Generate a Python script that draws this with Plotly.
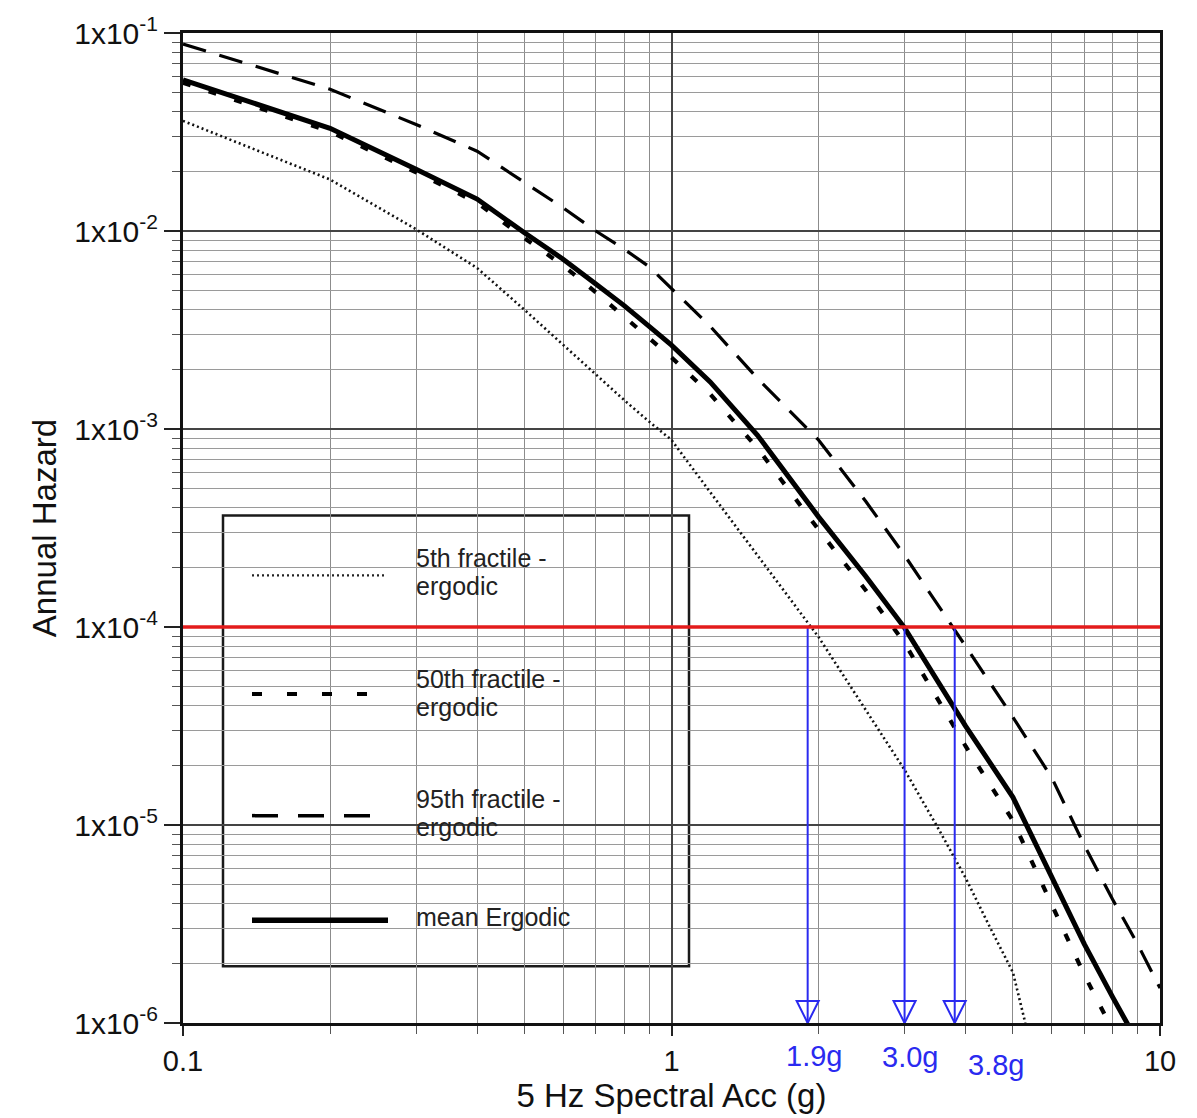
import numpy as np
import plotly.graph_objects as go

# ---------------- data ----------------
acc_mean = [0.1, 0.2, 0.3, 0.4, 0.5, 0.6, 0.7, 0.8, 0.9, 1.0, 1.2, 1.5, 2.0, 2.5, 3.0, 4.0, 5.0, 6.0, 7.0, 8.0, 8.6]
haz_mean = [0.058, 0.033, 0.0205, 0.0145, 0.0098, 0.0072, 0.0054, 0.0042, 0.0033, 0.00265, 0.00173,
            0.00093, 0.00036, 0.00018, 0.000099, 0.0000316, 0.0000138, 0.0000055, 0.0000025, 0.00000135, 0.00000098]

acc_p50 = [0.1, 0.2, 0.3, 0.4, 0.5, 0.6, 0.7, 0.8, 0.9, 1.0, 1.2, 1.5, 2.0, 2.5, 3.0, 4.0, 5.0, 6.0, 7.0, 8.0]
haz_p50 = [0.056, 0.0318, 0.0198, 0.0139, 0.0092, 0.0067, 0.0049, 0.0037, 0.0029, 0.0023, 0.0015,
           0.0008, 0.00031, 0.000153, 0.000083, 0.000025, 0.0000105, 0.000004, 0.00000175, 0.00000092]

acc_p05 = [0.1, 0.2, 0.3, 0.4, 0.5, 0.6, 0.7, 0.8, 0.9, 1.0, 1.2, 1.5, 2.0, 2.5, 3.0, 3.5, 4.0, 4.5, 5.0, 5.3]
haz_p05 = [0.036, 0.0182, 0.0102, 0.0065, 0.0040, 0.00265, 0.00188, 0.0014, 0.00109, 0.00088, 0.00048,
           0.00023, 0.000089, 0.000038, 0.000019, 0.0000098, 0.0000054, 0.000003, 0.0000018, 0.000001]

acc_p95 = [0.1, 0.2, 0.3, 0.4, 0.5, 0.6, 0.7, 0.8, 0.9, 1.0, 1.2, 1.5, 2.0, 2.5, 3.0, 4.0, 5.0, 6.0, 7.0, 8.0, 9.0, 10.0]
haz_p95 = [0.088, 0.052, 0.0345, 0.0253, 0.0176, 0.0131, 0.0100, 0.0081, 0.0066, 0.0051, 0.0033,
           0.0018, 0.00088, 0.00043, 0.00023, 0.00008, 0.000035, 0.0000174, 0.0000079, 0.0000042, 0.0000025, 0.0000015]

target_hazard = 1e-4
x_range_vals = [0.1, 10]
marked_acc = [1.9, 3.0, 3.8]
marked_labels = ["1.9g", "3.0g", "3.8g"]
y_floor = 1e-6

y_tickvals = [1e-6, 1e-5, 1e-4, 1e-3, 1e-2, 1e-1]
y_ticktext = ["1x10<sup>-6</sup>", "1x10<sup>-5</sup>", "1x10<sup>-4</sup>",
              "1x10<sup>-3</sup>", "1x10<sup>-2</sup>", "1x10<sup>-1</sup>"]
x_tickvals = [0.1, 1, 10]
x_ticktext = ["0.1", "1", "10"]

legend_labels = [["5th fractile -", "ergodic"], ["50th fractile -", "ergodic"],
                 ["95th fractile -", "ergodic"], ["mean Ergodic"]]

FONT = "Liberation Sans, Arial, Helvetica, sans-serif"

# ---------------- figure ----------------
fig = go.Figure()

fig.add_trace(go.Scatter(x=acc_p05, y=haz_p05, mode="lines",
                         line=dict(color="#111111", width=2.6, dash="2px,3px"), showlegend=False))
fig.add_trace(go.Scatter(x=acc_p95, y=haz_p95, mode="lines",
                         line=dict(color="black", width=3.2, dash="24px,14px"), showlegend=False))
fig.add_trace(go.Scatter(x=acc_p50, y=haz_p50, mode="lines",
                         line=dict(color="black", width=4.2, dash="8px,19px"), showlegend=False))
fig.add_trace(go.Scatter(x=acc_mean, y=haz_mean, mode="lines",
                         line=dict(color="black", width=5), showlegend=False))

# blue arrows
for a in marked_acc:
    fig.add_trace(go.Scatter(x=[a, a], y=[target_hazard, y_floor], mode="lines",
                             line=dict(color="#2a2af0", width=2), showlegend=False, cliponaxis=False))
fig.add_trace(go.Scatter(x=marked_acc, y=[y_floor] * len(marked_acc), mode="markers",
                         marker=dict(symbol="arrow-down-open", size=22, color="#2a2af0",
                                     line=dict(color="#2a2af0", width=2)),
                         showlegend=False, cliponaxis=False))

# red hazard line
fig.add_trace(go.Scatter(x=x_range_vals, y=[target_hazard, target_hazard], mode="lines",
                         line=dict(color="#e31b1b", width=3.5), showlegend=False))

# ---------------- layout ----------------
L, R, T, B = 183, 37, 30, 95
W, H = 1197, 1118
pw, ph = W - L - R, H - T - B


def px2paper_x(px):
    return (px - L) / pw


def px2paper_y(py):
    return (H - B - py) / ph


minor_x = [m * 10.0 ** k for k in (-1, 0) for m in range(2, 10)]
minor_y = [m * 10.0 ** k for k in range(-6, -1) for m in range(2, 10)]

fig.update_layout(
    width=W, height=H,
    margin=dict(l=L, r=R, t=T, b=B),
    paper_bgcolor="white", plot_bgcolor="white",
    font=dict(family=FONT, color="#111111"),
    xaxis=dict(type="log", range=[-1, 1], tickmode="array", tickvals=x_tickvals, ticktext=x_ticktext,
               ticks="outside", ticklen=10, tickwidth=1.5, tickcolor="#222",
               tickfont=dict(size=29, family=FONT, color="#111"),
               showline=True, linecolor="#111", linewidth=3, mirror=True,
               showgrid=True, gridcolor="#444444", gridwidth=1.5,
               minor=dict(tickmode="array", tickvals=minor_x, ticks="outside", ticklen=8,
                          tickcolor="#555", tickwidth=1, showgrid=True, gridcolor="#8c8c8c", gridwidth=1),
               title=dict(text="5 Hz Spectral Acc (g)", font=dict(size=33, family=FONT, color="#111"),
                          standoff=4),
               zeroline=False),
    yaxis=dict(type="log", range=[-6, -1], tickmode="array", tickvals=y_tickvals, ticktext=y_ticktext,
               ticks="outside", ticklen=16, tickwidth=1.5, tickcolor="#222",
               tickfont=dict(size=30, family=FONT, color="#111"),
               showline=True, linecolor="#111", linewidth=3, mirror=True,
               showgrid=True, gridcolor="#444444", gridwidth=1.5,
               minor=dict(tickmode="array", tickvals=minor_y, ticks="outside", ticklen=8,
                          tickcolor="#555", tickwidth=1, showgrid=True, gridcolor="#9a9a9a", gridwidth=1),
               title=dict(text="Annual Hazard", font=dict(size=33, family=FONT, color="#111"),
                          standoff=8),
               zeroline=False),
)

# legend box (manual)
fig.add_shape(type="rect", xref="paper", yref="paper",
              x0=px2paper_x(223), x1=px2paper_x(689), y0=px2paper_y(966), y1=px2paper_y(514),
              line=dict(color="#1a1a1a", width=2.5), fillcolor="white", layer="between")

sample_styles = [
    dict(color="#222222", width=2.4, dash="2px,3px"),
    dict(color="black", width=4, dash="10px,25px"),
    dict(color="black", width=3.5, dash="26px,20px"),
    dict(color="black", width=5.5, dash="solid"),
]
sample_y = [574, 693, 815, 920]
sample_x1 = [385, 368, 378, 388]
text_y = [[557, 585], [678, 706], [798, 826], [917]]
for st, sy, sx1, labs, tys in zip(sample_styles, sample_y, sample_x1, legend_labels, text_y):
    fig.add_shape(type="line", xref="paper", yref="paper",
                  x0=px2paper_x(252), x1=px2paper_x(sx1), y0=px2paper_y(sy), y1=px2paper_y(sy),
                  line=st, layer="above")
    for lab, ty in zip(labs, tys):
        fig.add_annotation(xref="paper", yref="paper", x=px2paper_x(414), y=px2paper_y(ty),
                           text=lab, showarrow=False, xanchor="left", yanchor="middle",
                           font=dict(size=25, family=FONT, color="#222"))

# blue labels
label_shift = [6, 5, 41]
label_py = [1056, 1057, 1065]
for a, lab, sh, lpy in zip(marked_acc, marked_labels, label_shift, label_py):
    fig.add_annotation(xref="x", yref="paper", x=np.log10(a), y=px2paper_y(lpy), text=lab,
                       showarrow=False, xanchor="center", yanchor="middle", xshift=sh,
                       font=dict(size=29, family=FONT, color="#2a2af0"))

fig.write_html("out.html")
